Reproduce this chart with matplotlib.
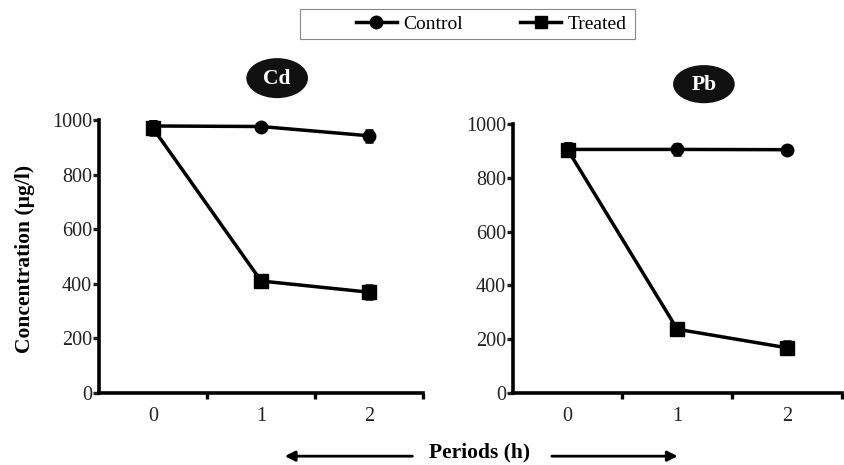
import matplotlib.pyplot as plt
from matplotlib.patches import Ellipse, Rectangle
from matplotlib.lines import Line2D

plt.rcParams["font.family"] = ["Liberation Serif", "DejaVu Serif"]

# data
periods = [0, 1, 2]
cd_control = [978, 976, 942]
cd_control_err = [20, 12, 22]
cd_treated = [970, 410, 369]
cd_treated_err = [25, 10, 25]
pb_control = [906, 906, 905]
pb_control_err = [25, 20, 6]
pb_treated = [905, 237, 168]
pb_treated_err = [25, 15, 25]

fig = plt.figure(figsize=(8.45, 4.65), dpi=100)
ax1 = fig.add_axes([0.117, 0.155, 0.384, 0.587])
ax2 = fig.add_axes([0.607, 0.155, 0.389, 0.578])


def draw(ax, ctrl, ctrl_err, trt, trt_err):
    ax.errorbar(periods, trt, yerr=trt_err, color="black", lw=2.5, marker="s",
                ms=9.5, capsize=3, elinewidth=1.8, capthick=1.8, zorder=3)
    ax.errorbar(periods, ctrl, yerr=ctrl_err, color="black", lw=2.5, marker="o",
                ms=9, capsize=3, elinewidth=1.8, capthick=1.8, zorder=4)
    ax.set_xlim(-0.5, 2.5)
    ax.set_ylim(0, 1000)
    ax.set_yticks([0, 200, 400, 600, 800, 1000])
    ax.set_xticks(periods)
    ax.set_xticks([0.5, 1.5, 2.5], minor=True)
    ax.tick_params(axis="x", which="major", length=0, pad=10, labelsize=14.5, colors="#222222")
    ax.tick_params(axis="x", which="minor", length=4, width=2.4, direction="out")
    ax.tick_params(axis="y", length=4, width=2.4, direction="out", pad=1,
                   labelsize=14.5, colors="#222222")
    for s in ["top", "right"]:
        ax.spines[s].set_visible(False)
    for s in ["left", "bottom"]:
        ax.spines[s].set_linewidth(2.6)


draw(ax1, cd_control, cd_control_err, cd_treated, cd_treated_err)
draw(ax2, pb_control, pb_control_err, pb_treated, pb_treated_err)

fig.text(0.03, 0.443, "Concentration (µg/l)", rotation=90, ha="center", va="center",
         fontsize=15.5, fontweight="bold")
fig.text(0.568, 0.027, "Periods (h)", ha="center", va="center", fontsize=15.5, fontweight="bold")

fig.patches.append(Ellipse((0.328, 0.832), 0.073, 0.086, transform=fig.transFigure,
                           facecolor="#111111", edgecolor="none"))
fig.text(0.328, 0.830, "Cd", ha="center", va="center", color="white", fontsize=15.5, fontweight="bold")
fig.patches.append(Ellipse((0.833, 0.819), 0.073, 0.082, transform=fig.transFigure,
                           facecolor="#111111", edgecolor="none"))
fig.text(0.833, 0.817, "Pb", ha="center", va="center", color="white", fontsize=15.5, fontweight="bold")

for x0, x1 in [(0.488, 0.337), (0.653, 0.802)]:
    fig.add_artist(plt.Annotation("", xy=(x1, 0.019), xytext=(x0, 0.019), xycoords="figure fraction",
                                  arrowprops=dict(arrowstyle="-|>", color="black", lw=2,
                                                  mutation_scale=15, shrinkA=0, shrinkB=0)))

# legend box drawn separately, content sits right of centre in the original
fig.patches.append(Rectangle((0.355, 0.916), 0.396, 0.0645, transform=fig.transFigure,
                             facecolor="white", edgecolor="#888888", lw=0.8))
handles = [Line2D([], [], color="black", lw=2.5, marker="o", ms=9),
           Line2D([], [], color="black", lw=2.5, marker="s", ms=9)]
fig.legend(handles, ["Control", "Treated"], loc="center left", bbox_to_anchor=(0.421, 0.949),
           ncol=2, frameon=False, fontsize=14, handlelength=2.1, columnspacing=2.95,
           handletextpad=0.35, borderpad=0, borderaxespad=0)

fig.savefig("out.png", dpi=100)
